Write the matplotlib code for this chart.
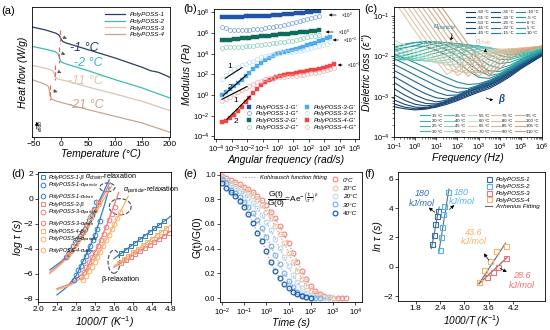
import numpy as np
import matplotlib
matplotlib.use("Agg")
import matplotlib.pyplot as plt
from matplotlib.colors import LinearSegmentedColormap
from matplotlib.patches import Ellipse, FancyArrowPatch

plt.rcParams['font.family'] = ['Liberation Sans', 'DejaVu Sans']
plt.rcParams['mathtext.fontset'] = 'custom'
plt.rcParams['mathtext.rm'] = 'Liberation Sans'
plt.rcParams['mathtext.it'] = 'Liberation Sans:italic'
plt.rcParams['mathtext.bf'] = 'Liberation Sans:bold'
plt.rcParams['axes.linewidth'] = 0.6

# ---------------- (a) DSC ----------------
dsc_T = [
    [-53, -30, -10, -4, -1, 1, 4, 10, 20, 50, 100, 150, 165, 180, 201],
    [-53, -30, -10, -5, -3, -1, 2, 10, 30, 50, 100, 150, 170, 201],
    [-53, -30, -16, -13, -11, -8, 0, 20, 50, 100, 150, 201],
    [-53, -35, -25, -22, -20, -17, -10, 0, 50, 100, 150, 201],
]
dsc_hf = [
    [-0.82, -0.90, -1.00, -1.05, -1.13, -1.20, -1.26, -1.30, -1.35, -1.50, -1.75, -2.03, -2.13, -2.18, -2.33],
    [-1.40, -1.48, -1.56, -1.62, -1.72, -1.83, -1.88, -1.93, -2.03, -2.13, -2.40, -2.65, -2.77, -2.95],
    [-1.97, -2.05, -2.12, -2.18, -2.30, -2.36, -2.40, -2.48, -2.62, -2.83, -3.05, -3.33],
    [-2.40, -2.50, -2.57, -2.63, -2.85, -2.98, -3.03, -3.08, -3.30, -3.50, -3.70, -3.98],
]
dsc_names = ['PolyPOSS-1', 'PolyPOSS-2', 'PolyPOSS-3', 'PolyPOSS-4']
dsc_tg = [-1, -2, -11, -21]
dsc_tg_x = [-1, -3.5, -10, -20.5]
dsc_colors = ['#2b3d66', '#3cbcb0', '#d9c6b0', '#c8a78c']

# ---------------- (b) rheology ----------------
logw = [-3.6, -3.35, -3.1, -2.85, -2.6, -2.35, -2.1, -1.85, -1.6, -1.35, -1.1, -0.85, -0.6, -0.35, -0.1,
        0.15, 0.4, 0.65, 0.9, 1.15, 1.4, 1.65, 1.9, 2.15, 2.4, 2.65, 2.9, 3.15, 3.4, 3.65]
g1_gp = [7.55, 7.56, 7.57, 7.58, 7.59, 7.60, 7.61, 7.62, 7.63, 7.65, 7.66, 7.68, 7.70, 7.72, 7.75,
         7.77, 7.80, 7.83, 7.86, 7.90, 7.94, 7.98, 8.02, 8.07, 8.12, 8.16]
g1_gpp = [6.55, 6.45, 6.32, 6.27, 6.26, 6.28, 6.30, 6.33, 6.36, 6.40, 6.44, 6.49, 6.54, 6.60, 6.66,
          6.73, 6.80, 6.88, 6.96, 7.05, 7.14, 7.24, 7.34, 7.44, 7.53, 7.61]
g2_gp = [5.29, 5.33, 5.37, 5.41, 5.44, 5.48, 5.52, 5.56, 5.60, 5.64, 5.68, 5.72, 5.76, 5.79, 5.83,
         5.87, 5.91, 5.95, 5.99, 6.03, 6.07, 6.10, 6.14, 6.18, 6.22, 6.26]
g2_gpp = [4.60, 4.62, 4.63, 4.65, 4.67, 4.69, 4.72, 4.75, 4.78, 4.82, 4.86, 4.90, 4.95, 5.00, 5.05,
          5.10, 5.16, 5.22, 5.28, 5.35, 5.42, 5.50, 5.58, 5.67, 5.76, 5.84]
g3_gp = [-0.03, 0.27, 0.56, 0.87, 1.18, 1.50, 1.83, 2.17, 2.50, 2.82, 3.12, 3.38, 3.60, 3.78, 3.93,
         4.05, 4.15, 4.25, 4.35, 4.46, 4.57, 4.69, 4.81, 4.94, 5.07, 5.20, 5.33, 5.48, 5.66]
g3_gpp = [1.58, 1.93, 2.25, 2.52, 2.72, 2.88, 3.03, 3.18, 3.33, 3.48, 3.64, 3.78, 3.89, 3.97, 4.04,
          4.09, 4.13, 4.17, 4.21, 4.26, 4.31, 4.37, 4.43, 4.52, 4.62, 4.72, 4.83, 4.98, 5.15]
g4_gp = [-2.65, -2.48, -2.25, -1.90, -1.55, -1.15, -0.70, -0.25, 0.20, 0.60, 0.95, 1.22, 1.42, 1.58, 1.73,
         1.84, 1.93, 2.01, 2.08, 2.15, 2.21, 2.27, 2.33, 2.40, 2.47, 2.54, 2.62, 2.72, 2.85, 3.00]
g4_gpp = [-0.61, -0.38, -0.14, 0.08, 0.28, 0.46, 0.65, 0.84, 1.03, 1.22, 1.39, 1.52, 1.61, 1.68, 1.73,
          1.76, 1.78, 1.80, 1.82, 1.86, 1.91, 1.97, 2.03, 2.10, 2.17, 2.25, 2.33, 2.42, 2.51, 2.60]
rheo_series = [g1_gp, g1_gpp, g2_gp, g2_gpp, g3_gp, g3_gpp, g4_gp, g4_gpp]
rheo_labels = ["PolyPOSS-1-G'", "PolyPOSS-1-G''", "PolyPOSS-2-G'", "PolyPOSS-2-G''",
               "PolyPOSS-3-G'", "PolyPOSS-3-G''", "PolyPOSS-4-G'", "PolyPOSS-4-G''"]
rheo_colors = ['#1f55a6', '#6f9ad6', '#0e6b5e', '#86cbbb', '#4eaaec', '#bcdcf4', '#f04545', '#f5aaaa']
# slope guide lines (log w, log G) and their labels
slope_x = [[-3.42, -2.34], [-3.55, -2.05], [-3.63, -2.02], [-3.31, -1.80]]
slope_y = [[1.62, 2.66], [-0.05, 1.95], [-0.40, 0.82], [-2.34, -0.09]]
slope_txt = ['1', '2', '1', '2']
slope_txt_xy = [(-3.1, 2.75), (-3.1, 0.75), (-2.75, -0.55), (-2.75, -2.6)]
shift_txt = ['×10$^{2}$', '×10$^{0}$', '×10$^{-2}$', '×10$^{-3}$']

# ---------------- (c) dielectric loss ----------------
lf = [-1, -0.5, 0, 0.5, 1, 1.5, 2, 2.5, 3, 3.5, 4, 4.5, 5, 5.5, 6]
temps_c = list(range(-60, 115, 5))
loss_log = [
    [-3.25, -3.30, -3.33, -3.31, -3.26, -3.19, -3.10, -2.99, -2.89, -2.80, -2.66, -2.50, -2.31, -2.15, -1.99],
    [-3.18, -3.26, -3.30, -3.29, -3.24, -3.16, -3.07, -2.96, -2.86, -2.76, -2.63, -2.47, -2.29, -2.13, -1.97],
    [-3.08, -3.19, -3.26, -3.27, -3.22, -3.14, -3.04, -2.93, -2.83, -2.73, -2.60, -2.44, -2.27, -2.11, -1.96],
    [-2.95, -3.09, -3.19, -3.23, -3.20, -3.12, -3.02, -2.90, -2.80, -2.71, -2.58, -2.42, -2.25, -2.10, -1.95],
    [-2.80, -2.96, -3.09, -3.17, -3.18, -3.11, -3.00, -2.88, -2.78, -2.69, -2.56, -2.40, -2.23, -2.08, -1.94],
    [-2.65, -2.81, -2.96, -3.07, -3.13, -3.09, -2.99, -2.86, -2.76, -2.67, -2.54, -2.38, -2.21, -2.07, -1.93],
    [-2.50, -2.65, -2.80, -2.93, -3.03, -3.06, -2.98, -2.85, -2.74, -2.65, -2.52, -2.36, -2.20, -2.06, -1.92],
    [-2.35, -2.49, -2.63, -2.77, -2.89, -2.97, -2.96, -2.84, -2.73, -2.63, -2.50, -2.35, -2.19, -2.05, -1.91],
    [-2.20, -2.33, -2.47, -2.60, -2.73, -2.84, -2.90, -2.85, -2.72, -2.62, -2.49, -2.34, -2.18, -2.04, -1.90],
    [-2.06, -2.18, -2.31, -2.44, -2.57, -2.69, -2.78, -2.80, -2.72, -2.61, -2.48, -2.33, -2.17, -2.03, -1.89],
    [-1.95, -2.05, -2.16, -2.28, -2.41, -2.53, -2.64, -2.70, -2.68, -2.60, -2.47, -2.32, -2.16, -2.02, -1.88],
    [-1.85, -1.78, -1.74, -1.76, -1.85, -1.98, -2.15, -2.35, -2.52, -2.55, -2.45, -2.30, -2.14, -2.00, -1.87],
    [-1.78, -1.70, -1.66, -1.67, -1.73, -1.84, -1.99, -2.17, -2.36, -2.48, -2.43, -2.28, -2.12, -1.98, -1.86],
    [-1.80, -1.72, -1.66, -1.63, -1.65, -1.73, -1.86, -2.02, -2.20, -2.36, -2.38, -2.26, -2.10, -1.96, -1.85],
    [-1.88, -1.80, -1.73, -1.67, -1.64, -1.66, -1.75, -1.89, -2.05, -2.22, -2.30, -2.22, -2.08, -1.95, -1.84],
    [-1.98, -1.90, -1.82, -1.74, -1.68, -1.66, -1.69, -1.78, -1.92, -2.08, -2.18, -2.15, -2.05, -1.94, -1.83],
    [-2.05, -1.98, -1.91, -1.83, -1.76, -1.70, -1.68, -1.72, -1.82, -1.96, -2.08, -2.08, -2.01, -1.92, -1.82],
    [-2.10, -2.05, -1.99, -1.92, -1.84, -1.77, -1.72, -1.71, -1.76, -1.86, -1.98, -2.03, -1.98, -1.90, -1.81],
    [-2.08, -2.09, -2.05, -1.99, -1.92, -1.85, -1.78, -1.74, -1.74, -1.80, -1.90, -1.97, -1.95, -1.88, -1.80],
    [-2.00, -2.08, -2.10, -2.06, -2.00, -1.93, -1.86, -1.80, -1.77, -1.78, -1.85, -1.92, -1.92, -1.87, -1.79],
    [-1.92, -2.03, -2.10, -2.11, -2.07, -2.01, -1.94, -1.87, -1.82, -1.80, -1.83, -1.88, -1.90, -1.85, -1.78],
    [-1.85, -1.96, -2.06, -2.12, -2.13, -2.09, -2.02, -1.95, -1.88, -1.84, -1.83, -1.86, -1.88, -1.84, -1.77],
    [-1.78, -1.89, -2.00, -2.10, -2.16, -2.16, -2.10, -2.03, -1.95, -1.89, -1.86, -1.86, -1.87, -1.83, -1.77],
    [-1.70, -1.81, -1.93, -2.05, -2.15, -2.21, -2.19, -2.11, -2.02, -1.95, -1.90, -1.88, -1.87, -1.83, -1.76],
    [-1.60, -1.72, -1.85, -1.98, -2.11, -2.22, -2.26, -2.20, -2.10, -2.01, -1.94, -1.90, -1.88, -1.83, -1.76],
    [-0.63, -1.00, -1.38, -1.75, -2.12, -2.45, -2.30, -2.05, -1.90, -1.85, -1.83, -1.82, -1.80, -1.78, -1.75],
    [-0.46, -0.83, -1.21, -1.58, -1.95, -2.32, -2.40, -2.17, -1.97, -1.88, -1.84, -1.82, -1.80, -1.78, -1.75],
    [-0.29, -0.66, -1.04, -1.41, -1.78, -2.15, -2.48, -2.30, -2.05, -1.92, -1.86, -1.83, -1.81, -1.78, -1.75],
    [-0.12, -0.49, -0.87, -1.24, -1.61, -1.98, -2.35, -2.42, -2.15, -1.97, -1.88, -1.84, -1.81, -1.78, -1.75],
    [0.05, -0.32, -0.70, -1.07, -1.44, -1.81, -2.18, -2.50, -2.28, -2.04, -1.91, -1.85, -1.82, -1.79, -1.75],
    [0.22, -0.15, -0.53, -0.90, -1.27, -1.64, -2.01, -2.38, -2.40, -2.13, -1.96, -1.87, -1.83, -1.79, -1.75],
    [0.39, 0.02, -0.36, -0.73, -1.10, -1.47, -1.84, -2.21, -2.50, -2.25, -2.02, -1.90, -1.84, -1.80, -1.76],
    [0.56, 0.19, -0.19, -0.56, -0.93, -1.30, -1.67, -2.04, -2.41, -2.38, -2.10, -1.94, -1.86, -1.81, -1.76],
    [0.73, 0.36, -0.02, -0.39, -0.76, -1.13, -1.50, -1.87, -2.24, -2.50, -2.20, -1.99, -1.88, -1.82, -1.77],
    [0.90, 0.53, 0.15, -0.22, -0.59, -0.96, -1.33, -1.70, -2.07, -2.44, -2.32, -2.05, -1.91, -1.83, -1.77],
]

# ---------------- (d) relaxation map ----------------
d_names = ['PolyPOSS-1', 'PolyPOSS-3', 'PolyPOSS-4']
d_colors = ['#2f7fc1', '#f27c7c', '#f7b16b']
beta_x = [[3.75, 3.85, 3.95, 4.05, 4.15, 4.25, 4.35, 4.45, 4.55, 4.65],
          [3.75, 3.85, 3.95, 4.05, 4.15, 4.25, 4.35, 4.45, 4.55, 4.65, 4.75],
          [3.70, 3.80, 3.90, 4.00, 4.10, 4.20, 4.30, 4.40, 4.50, 4.60, 4.70]]
beta_y = [[-4.38, -4.09, -3.81, -3.53, -3.24, -2.96, -2.68, -2.39, -2.11, -1.83],
          [-5.14, -4.90, -4.66, -4.42, -4.18, -3.94, -3.70, -3.46, -3.22, -2.98, -2.74],
          [-5.12, -4.85, -4.57, -4.30, -4.02, -3.75, -3.47, -3.20, -2.92, -2.65, -2.37]]
beta_fit_x = [[3.60, 4.80], [3.60, 4.80], [3.60, 4.80]]
beta_fit_y = [[-4.80, -1.40], [-5.50, -2.60], [-5.40, -2.10]]
part_x = [[2.75, 2.80, 2.85, 2.90, 2.95, 3.00, 3.05, 3.10, 3.15, 3.20, 3.25, 3.30],
          [2.90, 2.96, 3.02, 3.08, 3.14, 3.20, 3.26, 3.32, 3.38, 3.44, 3.50, 3.56, 3.62],
          [2.95, 3.01, 3.07, 3.13, 3.19, 3.25, 3.31, 3.37, 3.43, 3.49, 3.55, 3.61, 3.67, 3.73]]
part_y = [[-6.50, -6.10, -5.70, -5.35, -5.00, -4.60, -4.20, -3.80, -3.35, -2.90, -2.40, -1.80],
          [-6.30, -5.90, -5.50, -5.10, -4.70, -4.25, -3.80, -3.30, -2.80, -2.25, -1.70, -1.20, -0.65],
          [-6.50, -6.15, -5.80, -5.45, -5.05, -4.65, -4.25, -3.80, -3.35, -2.90, -2.45, -2.00, -1.55, -1.10]]
part_fit_x = [[2.40, 2.60, 2.80, 3.00, 3.20, 3.40, 3.50],
              [2.40, 2.70, 3.00, 3.30, 3.50, 3.70],
              [2.40, 2.70, 3.00, 3.30, 3.60, 3.90]]
part_fit_y = [[-7.70, -7.10, -6.20, -4.60, -2.90, -0.50, 0.90],
              [-7.20, -6.80, -5.80, -3.50, -1.60, 0.50],
              [-7.30, -6.90, -6.10, -4.30, -2.10, 0.20]]
chain_x = [[2.58, 2.63, 2.68, 2.73, 2.78, 2.83, 2.88, 2.93, 2.98, 3.03, 3.08, 3.13, 3.18, 3.23],
           [2.62, 2.70, 2.78, 2.86, 2.94, 3.02, 3.10, 3.18, 3.26],
           [2.64, 2.72, 2.80, 2.88, 2.96, 3.04, 3.12, 3.20, 3.28]]
chain_y = [[-4.70, -4.40, -4.10, -3.80, -3.50, -3.25, -3.00, -2.70, -2.40, -2.05, -1.70, -1.30, -0.85, -0.30],
           [-4.60, -4.15, -3.65, -3.15, -2.65, -2.10, -1.50, -0.90, -0.30],
           [-4.55, -4.10, -3.60, -3.10, -2.60, -2.05, -1.50, -0.95, -0.40]]
chain_fit_x = [[2.25, 2.50, 2.75, 3.00, 3.25, 3.50],
               [2.25, 2.50, 2.75, 3.00, 3.25, 3.52],
               [2.25, 2.50, 2.75, 3.00, 3.25, 3.55]]
chain_fit_y = [[-5.70, -5.00, -4.00, -2.60, -0.50, 1.50],
               [-5.90, -5.10, -4.10, -2.70, -0.70, 1.30],
               [-6.00, -5.20, -4.20, -2.80, -0.90, 1.00]]

# ---------------- (e) stress relaxation ----------------
t_log = [-2.0, -1.8, -1.6, -1.4, -1.2, -1.0, -0.8, -0.6, -0.4, -0.2, 0.0, 0.2, 0.4, 0.6, 0.8,
         1.0, 1.2, 1.4, 1.6, 1.8, 2.0, 2.2, 2.4, 2.6, 2.8, 3.0, 3.2, 3.4, 3.6]
relax_labels = ['0°C', '10°C', '20°C', '30°C', '40°C']
relax_colors = ['#f28c8c', '#f5c9a0', '#c5dcf2', '#7db6ea', '#1f5fb4']
relax_vals = [
    [0.99, 0.97, 0.955, 0.94, 0.920, 0.903, 0.882, 0.857, 0.826, 0.791, 0.750, 0.701, 0.646, 0.584, 0.516,
     0.443, 0.368, 0.292, 0.220, 0.156, 0.101, 0.060, 0.031, 0.014, 0.005, 0.002, 0.0, 0.0, 0.0],
    [0.98, 0.96, 0.935, 0.920, 0.903, 0.882, 0.857, 0.826, 0.791, 0.750, 0.701, 0.646, 0.584, 0.516, 0.443,
     0.368, 0.292, 0.220, 0.156, 0.101, 0.060, 0.031, 0.014, 0.005, 0.002, 0.0],
    [0.975, 0.95, 0.912, 0.893, 0.870, 0.842, 0.809, 0.771, 0.726, 0.674, 0.615, 0.550, 0.480, 0.405, 0.330,
     0.256, 0.188, 0.128, 0.079, 0.044, 0.022, 0.009, 0.003, 0.001, 0.0],
    [0.965, 0.93, 0.876, 0.850, 0.818, 0.781, 0.738, 0.688, 0.631, 0.567, 0.498, 0.424, 0.349, 0.274, 0.203,
     0.142, 0.090, 0.052, 0.026, 0.011, 0.004, 0.001, 0.0],
    [0.93, 0.89, 0.86, 0.83, 0.79, 0.74, 0.68, 0.61, 0.53, 0.46, 0.38, 0.29, 0.22, 0.16, 0.11,
     0.08, 0.05, 0.03, 0.015, 0.006, 0.002],
]

# ---------------- (f) Arrhenius ----------------
f_names = ['PolyPOSS-1', 'PolyPOSS-2', 'PolyPOSS-3', 'PolyPOSS-4']
f_colors = ['#2f6db5', '#55b3ea', '#f27070', '#f5b36b']
f_x = [[2.21, 2.25, 2.29, 2.33, 2.36],
       [2.39, 2.42, 2.46, 2.48, 2.51, 2.60],
       [3.37, 3.56, 3.71, 3.83, 4.01],
       [3.37, 3.49, 3.63, 3.77, 4.01]]
f_y = [[1.54, 2.15, 2.91, 3.46, 3.78],
       [1.17, 2.04, 2.70, 3.57, 4.11, 5.09],
       [-1.04, -0.72, -0.35, -0.02, 0.57],
       [-1.04, -0.24, 0.41, 1.07, 1.39]]
f_fit_x = [[2.19, 2.38], [2.37, 2.62], [3.36, 4.05], [3.36, 4.01]]
f_fit_y = [[1.24, 4.07], [0.95, 5.30], [-1.15, 0.63], [-1.15, 1.61]]
f_ea = ['180\nkJ/mol', '180\nkJ/mol', '28.6\nkJ/mol', '43.6\nkJ/mol']

W, H = 550, 330
fig = plt.figure(figsize=(W / 100, H / 100), dpi=100)


def add_ax(l, t, r, b):
    return fig.add_axes([l / W, 1 - b / H, (r - l) / W, (b - t) / H])


def ff(px, py):
    return (px / W, 1 - py / H)


def fig_arrow(p0, p1, rad=0.0):
    fig.add_artist(FancyArrowPatch(ff(*p0), ff(*p1), transform=fig.transFigure,
                                   arrowstyle='-|>', mutation_scale=4, lw=0.5, color='black',
                                   connectionstyle=f'arc3,rad={rad}'))


def style(ax):
    ax.tick_params(direction='out', length=2, width=0.5, labelsize=6, pad=1.2)
    ax.tick_params(which='minor', direction='out', length=1.2, width=0.4)


lab_kw = dict(fontsize=7.5, style='italic')

# ===== (a) =====
ax = add_ax(32, 7, 170, 137)
for T, hf, c, n in zip(dsc_T, dsc_hf, dsc_colors, dsc_names):
    ax.plot(T, hf, color=c, lw=0.9, label=n)
red_y = [(-0.90, -1.33), (-1.42, -1.90), (-1.95, -2.42), (-2.55, -3.02)]
txt_pos = [(17, -1.45), (24, -1.90), (14, -2.45), (14, -3.17)]
arr_pos = [((1, -1.10), (16, -1.20)), ((-2, -1.58), (13, -1.68)),
           ((-9, -2.13), (6, -2.23)), ((-19, -2.70), (-1, -2.80))]
for xv, (y0, y1), (tx, ty), (a0, a1), tg, c in zip(dsc_tg_x, red_y, txt_pos, arr_pos, dsc_tg, dsc_colors):
    ax.plot([xv, xv], [y0, y1], color='#f06262', ls='--', lw=0.9)
    ax.annotate('', xy=a1, xytext=a0,
                arrowprops=dict(arrowstyle='-|>', color='#555555', lw=0.5, mutation_scale=5))
    ax.text(tx, ty, f'{tg} °C', color=c, fontsize=9, style='italic', va='center')
ax.set_xlim(-53, 201)
ax.set_ylim(-4.12, -0.22)
ax.set_yticks([])
ax.set_xticks([-50, 0, 50, 100, 150, 200])
style(ax)
ax.set_xlabel('Temperature (°C)', labelpad=0.5, **lab_kw)
ax.set_ylabel('Heat flow (W/g)', labelpad=3, **lab_kw)
ax.legend(loc='upper right', bbox_to_anchor=(1.0, 1.0), frameon=False,
          prop={'style': 'italic', 'size': 4.5}, handlelength=3.2, labelspacing=0.2, borderpad=0.3)
ax.annotate('', xy=(0.035, 0.14), xytext=(0.035, 0.04), xycoords='axes fraction',
            arrowprops=dict(arrowstyle='-|>', color='black', lw=0.6, mutation_scale=5))
ax.text(0.06, 0.09, 'endo', transform=ax.transAxes, rotation=90, fontsize=3.5,
        va='center', ha='center', style='italic')
fig.text(1 / W, 1 - 14 / H, '(a)', fontsize=8)

# ===== (b) =====
ax = add_ax(214, 9, 359, 139)
w = 10 ** np.array(logw)
for i, (vals, c, n) in enumerate(zip(rheo_series, rheo_colors, rheo_labels)):
    n_pts = len(vals)
    if i % 2 == 0:
        ax.plot(w[:n_pts], 10 ** np.array(vals), 's', ms=2.3, color=c, mec=c, mew=0.3, label=n)
    else:
        ax.plot(w[:n_pts], 10 ** np.array(vals), 'o', ms=2.8, mfc='none', mec=c, mew=0.5, label=n)
for sx, sy, st, sxy in zip(slope_x, slope_y, slope_txt, slope_txt_xy):
    ax.plot(10 ** np.array(sx), 10 ** np.array(sy), color='black', lw=0.8)
    ax.text(10 ** sxy[0], 10 ** sxy[1], st, fontsize=6, ha='center', va='center')
ax.set_xscale('log')
ax.set_yscale('log')
ax.set_xlim(10 ** -4.15, 10 ** 5.25)
ax.set_ylim(10 ** -4.25, 10 ** 8.33)
ax.set_xticks([10.0 ** k for k in range(-4, 6)])
ax.set_yticks([10.0 ** k for k in range(-4, 9, 2)])
style(ax)
ax.tick_params(labelsize=5.5)
ax.set_xlabel('Angular frequency (rad/s)', labelpad=0.5, **lab_kw)
ax.set_ylabel('Modulus (Pa)', labelpad=1, **lab_kw)
ax.legend(ncol=2, loc='lower right', bbox_to_anchor=(1.02, 0.03), frameon=False,
          prop={'style': 'italic', 'size': 4.3}, handlelength=1.0, handletextpad=0.6,
          labelspacing=0.25, columnspacing=1.0, markerscale=1.0)
arrows_b = [((326, 15), (339, 15), (341, 15)), ((323, 32), (336, 32), (338, 32)),
            ((330, 40), (341, 40), (343, 40)), ((335, 65), (345, 65), (347, 65))]
for (h, tl, tp), st in zip(arrows_b, shift_txt):
    fig_arrow(tl, h)
    fig.text(*ff(*tp), st, fontsize=3.4, va='center')
fig.text(183 / W, 1 - 12 / H, '(b)', fontsize=8)

# ===== (c) =====
ax = add_ax(394, 7, 542, 137)
cmap = LinearSegmentedColormap.from_list('diel', [
    (0.0, '#163a68'), (0.18, '#1f5c88'), (0.29, '#2a8a9c'), (0.41, '#2aa6a2'),
    (0.53, '#45b8aa'), (0.62, '#8fd2bf'), (0.705, '#c7e2cf'), (0.72, '#dfcdb2'), (1.0, '#c9a27e')])
freq = 10 ** np.array(lf)
lines_c = []
for T, vals in zip(temps_c, loss_log):
    ln, = ax.plot(freq, 10 ** np.array(vals), color=cmap((T + 60) / 170), lw=0.8, label=f'{T} °C')
    lines_c.append(ln)
ax.set_xscale('log')
ax.set_yscale('log')
ax.set_xlim(1e-1, 1e6)
ax.set_ylim(1e-4, 10 ** -0.78)
ax.set_xticks([10.0 ** k for k in range(-1, 7)])
ax.set_yticks([10.0 ** k for k in range(-4, 0)])
style(ax)
ax.tick_params(labelsize=5.5)
ax.set_xlabel('Frequency (Hz)', labelpad=0.5, **lab_kw)
ax.set_ylabel("Dieletric loss (ε'')", labelpad=1, **lab_kw)
leg_kw = dict(frameon=False, fontsize=3.0, handlelength=2.3, handletextpad=0.4,
              labelspacing=0.3, columnspacing=0.5, borderpad=0.3)
leg1 = ax.legend(handles=lines_c[:15], ncol=3, loc='upper right', bbox_to_anchor=(1.0, 1.0), **leg_kw)
ax.add_artist(leg1)
ax.legend(handles=lines_c[15:], ncol=5, loc='lower right', bbox_to_anchor=(1.0, 0.0), **leg_kw)
fig.text(*ff(433, 28), r'$\alpha_{particle}$', color='#1f8f9a', fontsize=5.5)
fig_arrow((451, 31), (448, 42), rad=-0.4)
fig.text(*ff(475, 44), r'$\alpha_{chain}$', color='#d7b692', fontsize=5)
fig_arrow((485, 54), (486, 46))
fig_arrow((484, 96), (496, 99), rad=0.3)
fig.text(*ff(498, 102), 'β', color='#1d4f86', fontsize=7, style='italic', fontweight='bold')
fig.text(364 / W, 1 - 12 / H, '(c)', fontsize=8)

# ===== (d) =====
ax = add_ax(38, 172, 171, 302)
for k, (n, c) in enumerate(zip(d_names, d_colors)):
    ax.plot(beta_fit_x[k], beta_fit_y[k], color=c, lw=0.9)
    ax.plot(part_fit_x[k], part_fit_y[k], color=c, lw=0.9)
    ax.plot(chain_fit_x[k], chain_fit_y[k], color=c, lw=0.9)
for k, (n, c) in enumerate(zip(d_names, d_colors)):
    ax.plot(beta_x[k], beta_y[k], 's', ms=3.2, mfc='none', mec=c, mew=0.7, label=f'{n}-β')
    ax.plot(part_x[k], part_y[k], 'o', ms=3.4, mfc='none', mec=c, mew=0.7, label=n + r'-$\alpha_{particle}$')
    ax.plot(chain_x[k], chain_y[k], 'h', ms=3.6, mfc='none', mec=c, mew=0.7, label=n + r'-$\alpha_{chain}$')
for (cx, cy, ew, eh) in [(3.46, 0.90, 0.32, 0.70), (3.73, -0.65, 0.46, 1.30), (3.60, -5.05, 0.25, 1.85)]:
    ax.add_patch(Ellipse((cx, cy), ew, eh, fill=False, ls='--', lw=0.8, ec='#3d4f66'))
ax.text(2.99, 1.75, r'$\alpha_{chain}$-relaxation', fontsize=5.2, va='center')
ax.text(3.79, 0.72, r'$\alpha_{particle}$-relaxation', fontsize=5.2, va='center')
ax.text(3.34, -6.45, 'β-relaxation', fontsize=5.2, va='center')
ax.set_xlim(2.0, 4.8)
ax.set_ylim(-8.27, 2.13)
ax.set_xticks([2.0, 2.4, 2.8, 3.2, 3.6, 4.0, 4.4, 4.8])
ax.set_yticks([-8, -6, -4, -2, 0, 2])
style(ax)
ax.set_xlabel('1000/T (K$^{-1}$)', labelpad=0.5, **lab_kw)
ax.set_ylabel('log τ (s)', labelpad=1, **lab_kw)
ax.legend(loc='upper left', bbox_to_anchor=(-0.01, 1.01), frameon=False,
          prop={'style': 'italic', 'size': 4.0}, handlelength=1.0, handletextpad=0.4,
          labelspacing=0.18, borderpad=0.2)
fig.text(11 / W, 1 - 177 / H, '(d)', fontsize=8)

# ===== (e) =====
ax = add_ax(220, 172, 362, 302)
tt = 10 ** np.array(t_log)
for vals, c in zip(relax_vals, relax_colors):
    ax.plot(tt[:len(vals)], vals, ls=':', color='#9a9a9a', lw=0.8)
mk = []
for vals, c, n in zip(relax_vals, relax_colors, relax_labels):
    m, = ax.plot(tt[:len(vals)], vals, 'o', ms=3.4, mfc='none', mec=c, mew=0.9, label=n)
    mk.append(m)
ax.set_xscale('log')
ax.set_xlim(10 ** -2.08, 10 ** 4.3)
ax.set_ylim(-0.032, 1.021)
ax.set_xticks([10.0 ** k for k in range(-2, 5)])
ax.set_yticks([0.0, 0.2, 0.4, 0.6, 0.8, 1.0])
style(ax)
ax.tick_params(labelsize=5.5)
ax.set_xlabel('Time (s)', labelpad=0.5, **lab_kw)
ax.set_ylabel('G(t)/G(0)', labelpad=2, fontsize=7.5)
leg_e = ax.legend(handles=mk, loc='upper right', bbox_to_anchor=(1.0, 1.0), frameon=False,
                  prop={'style': 'italic', 'size': 4.6}, handlelength=1.2, handletextpad=0.6,
                  labelspacing=0.45, borderpad=0.3)
ax.add_artist(leg_e)
fit_h, = ax.plot([], [], ls=':', color='#9a9a9a', lw=0.8)
ax.legend(handles=[fit_h], labels=['Kohlrausch function fitting'], loc='upper left',
          bbox_to_anchor=(0.12, 1.02), frameon=False, prop={'style': 'italic', 'size': 4.2},
          handlelength=2.5, handletextpad=0.5)
ax.text(0.33, 0.79,
        r'$\dfrac{\mathrm{G(t)}}{\mathrm{G(0)}}$=Ae$^{-\left(\dfrac{\mathrm{t}}{\tau^{*}}\right)^{\beta}}$',
        transform=ax.transAxes, fontsize=6.0, va='center')
fig.text(183 / W, 1 - 177 / H, '(e)', fontsize=8)

# ===== (f) =====
ax = add_ax(398, 172, 545, 301)
for fx, fy in zip(f_fit_x, f_fit_y):
    ax.plot(fx, fy, color='#6a6a6a', lw=0.8)
for x, y, c, n in zip(f_x, f_y, f_colors, f_names):
    ax.plot(x, y, 's', ms=3.6, mfc='none', mec=c, mew=0.8, label=n)
ax.plot([], [], color='#6a6a6a', lw=0.8, label='Arrhenius Fitting')
ea_pos = [(1.96, 4.65), (2.93, 4.75), (4.41, -0.93), (3.23, 2.04)]
ea_arr = [((2.33, 3.60), (2.07, 4.15)), ((2.58, 3.78), (2.80, 4.33)),
          ((3.81, 0.02), (4.10, -0.46)), ((3.64, 0.30), (3.44, 1.07))]
for txt, (px, py), (a0, a1), c in zip(f_ea, ea_pos, ea_arr, f_colors):
    ax.text(px, py, txt, color=c, fontsize=6.5, style='italic', ha='center', va='center', linespacing=1.1)
    ax.annotate('', xy=a1, xytext=a0,
                arrowprops=dict(arrowstyle='-|>', color='black', lw=0.5, mutation_scale=5))
ax.set_xlim(1.37, 4.98)
ax.set_ylim(-2.33, 6.46)
ax.set_xticks([1.8, 2.4, 3.0, 3.6, 4.2])
ax.set_yticks([-2, 0, 2, 4, 6])
style(ax)
ax.set_xlabel('1000/T (K$^{-1}$)', labelpad=0.5, fontsize=7.2, style='italic')
ax.set_ylabel('ln τ (s)', labelpad=1, **lab_kw)
ax.legend(loc='upper right', bbox_to_anchor=(1.0, 1.0), frameon=False,
          prop={'style': 'italic', 'size': 4.4}, handlelength=1.2, handletextpad=0.5,
          labelspacing=0.25, borderpad=0.3)
fig.text(364 / W, 1 - 177 / H, '(f)', fontsize=8)

fig.savefig('out.png', dpi=100)
